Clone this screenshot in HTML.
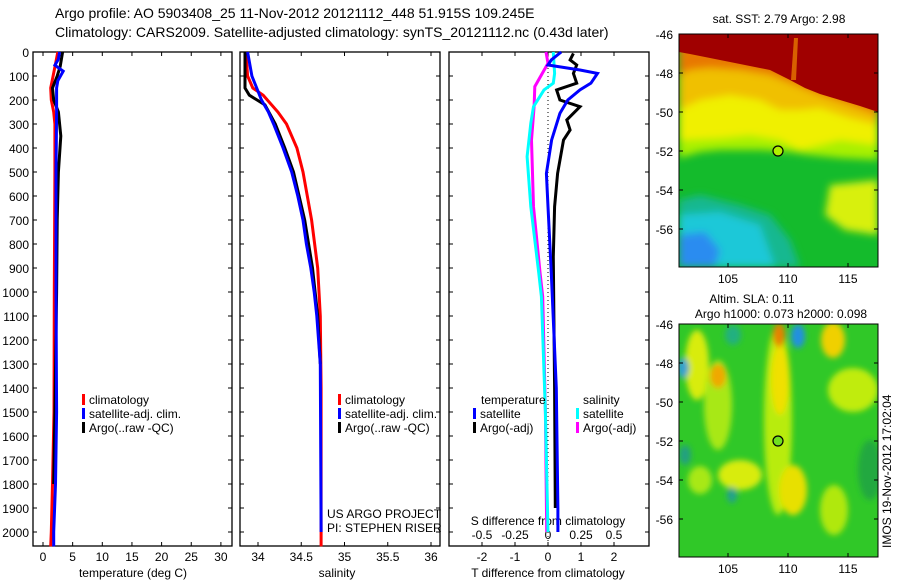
<!DOCTYPE html>
<html><head><meta charset="utf-8"><style>
html,body{margin:0;padding:0;background:#fff;}
svg{display:block;font-family:"Liberation Sans",sans-serif;}
text{fill:#000;}
</style></head><body>
<svg id="fig" width="900" height="580" viewBox="0 0 900 580" xmlns="http://www.w3.org/2000/svg">
<defs>
<filter id="bl" x="-20%" y="-20%" width="140%" height="140%"><feGaussianBlur stdDeviation="4"/></filter>
<filter id="bl2" x="-50%" y="-50%" width="200%" height="200%"><feGaussianBlur stdDeviation="3"/></filter>
<clipPath id="c1"><rect x="679" y="34" width="199" height="233"/></clipPath>
<clipPath id="c2"><rect x="679" y="324" width="199" height="233"/></clipPath>
</defs>
<text x="55" y="18" font-size="14">Argo profile: AO 5903408_25 11-Nov-2012 20121112_448 51.915S 109.245E</text>
<text x="55" y="37" font-size="14">Climatology: CARS2009. Satellite-adjusted climatology: synTS_20121112.nc (0.43d later)</text>

<!-- top map -->
<g clip-path="url(#c1)">
<rect x="679" y="34" width="199" height="233" fill="#14bb2c"/>
<g filter="url(#bl)">
<polygon points="679,200 700,195 740,205 770,215 790,240 800,267 679,267" fill="#18b890"/>
<polygon points="679,215 720,212 760,225 775,267 679,267" fill="#1ec8d8"/>
<polygon points="679,235 705,232 720,250 715,267 679,267" fill="#2a8cf0"/>
<polygon points="830,185 878,180 878,235 845,230 825,215" fill="#d8f010"/>
<polygon points="679,34 878,34 878,160 840,158 810,155 790,152 760,150 720,150 700,152 679,158" fill="#a8f000"/>
<polygon points="679,34 878,34 878,145 840,140 800,150 780,140 750,135 720,138 679,140" fill="#f0f000"/>
<polygon points="679,34 878,34 878,125 850,118 820,108 800,110 780,110 760,100 730,95 700,100 679,110" fill="#f0c000"/>
<polygon points="679,34 878,34 878,115 850,105 820,95 795,85 770,75 740,70 710,68 690,70 679,75" fill="#e87800"/>
</g>
<polygon points="679,34 878,34 878,112 860,106 840,100 820,94 805,88 790,80 770,70 740,64 710,58 690,54 679,52" fill="#a00000"/>
<polygon points="794,38 798,38 796,80 791,80" fill="#d86000"/>
<circle cx="778" cy="151" r="5" fill="#b0f000" stroke="#000" stroke-width="1.2"/>
</g>
<rect x="679" y="34" width="199" height="233" fill="none" stroke="#000"/>

<!-- bottom map -->
<g clip-path="url(#c2)">
<rect x="679" y="324" width="199" height="233" fill="#30c828"/>
<g filter="url(#bl2)">
<ellipse cx="778" cy="420" rx="14" ry="95" fill="#b8ec10"/>
<ellipse cx="780" cy="380" rx="9" ry="35" fill="#f0e000"/>
<ellipse cx="779" cy="335" rx="6" ry="12" fill="#e88000"/>
<ellipse cx="697" cy="365" rx="12" ry="35" fill="#d8ec10"/>
<ellipse cx="718" cy="405" rx="14" ry="45" fill="#a8e818"/>
<ellipse cx="718" cy="376" rx="8" ry="12" fill="#f0a800"/>
<ellipse cx="833" cy="340" rx="12" ry="18" fill="#f0d000"/>
<ellipse cx="853" cy="390" rx="25" ry="22" fill="#c0ec10"/>
<ellipse cx="740" cy="475" rx="22" ry="15" fill="#d8ec10"/>
<ellipse cx="793" cy="490" rx="14" ry="25" fill="#e8e000"/>
<ellipse cx="834" cy="510" rx="14" ry="25" fill="#b0e810"/>
<ellipse cx="700" cy="480" rx="12" ry="14" fill="#a8e818"/>
<ellipse cx="870" cy="470" rx="12" ry="30" fill="#20a840"/>
<ellipse cx="798" cy="336" rx="7" ry="12" fill="#2090e0"/>
<ellipse cx="683" cy="368" rx="6" ry="10" fill="#30a0d0"/>
<ellipse cx="733" cy="335" rx="8" ry="10" fill="#20b080"/>
<ellipse cx="732" cy="495" rx="5" ry="8" fill="#20a090"/>
<ellipse cx="685" cy="455" rx="6" ry="10" fill="#20a080"/>
</g>
<circle cx="778" cy="441" r="5" fill="#70e020" stroke="#000" stroke-width="1.2"/>
</g>
<rect x="679" y="324" width="199" height="233" fill="none" stroke="#000"/>

<text x="779" y="23" font-size="12" text-anchor="middle">sat. SST: 2.79 Argo: 2.98</text>
<text x="752" y="303" font-size="12" text-anchor="middle">Altim. SLA: 0.11</text>
<text x="781" y="318" font-size="12" text-anchor="middle">Argo h1000: 0.073 h2000: 0.098</text>
<text transform="translate(891,548) rotate(-90)" font-size="12">IMOS 19-Nov-2012 17:02:04</text>
<g id="axes"></g>
<g id="marks"></g>
</svg>
<script>
// ---- data ----
const depthTicks = [0,100,200,300,400,500,600,700,800,900,1000,1100,1200,1300,1400,1500,1600,1700,1800,1900,2000];
const tempTicks = [0,5,10,15,20,25,30];
const salTicks = [34,34.5,35,35.5,36];
const salTickLabels = ["34","34.5","35","35.5","36"];
const tdiffTicks = [-2,-1,0,1,2];
const sdiffTicks = [-0.5,-0.25,0,0.25,0.5];
const sdiffTickLabels = ["-0.5","-0.25","0","0.25","0.5"];

const tClimDepth = [0,50,100,150,200,250,300,500,1000,1500,1800,2000,2060];
const tClimVal   = [2.5,2.1,1.7,1.3,1.4,1.8,2.0,2.0,1.9,1.85,1.6,1.4,1.3];
const tSatDepth = [0,30,55,80,120,150,250,500,1000,1500,1800,2000,2060];
const tSatVal   = [2.8,2.6,2.0,3.4,2.5,2.3,2.3,2.2,2.2,2.3,2.1,1.8,1.8];
const tArgoDepth = [0,60,100,150,200,250,350,500,700,1000,1500,1800];
const tArgoVal   = [3.3,2.9,2.4,1.6,1.8,2.6,3.0,2.6,2.4,2.3,2.0,1.8];

const sClimDepth = [0,100,150,180,250,300,400,500,700,900,1100,1400,2060];
const sClimVal   = [33.86,33.88,33.94,34.06,34.23,34.33,34.45,34.52,34.62,34.69,34.72,34.73,34.73];
const sSatDepth = [0,100,200,250,300,400,500,600,700,800,900,1000,1100,1300,2000];
const sSatVal   = [33.88,33.93,34.04,34.12,34.18,34.29,34.39,34.46,34.52,34.56,34.61,34.65,34.68,34.72,34.73];
const sArgoDepth = [0,150,180,200,220,300,400,500,700,900,1100,1300];
const sArgoVal   = [33.85,33.85,33.9,33.99,34.08,34.2,34.31,34.41,34.54,34.63,34.69,34.72];

const dtSatDepth = [0,33,54,75,89,130,158,200,256,367,506,644,922,1400,1900,2000];
const dtSatVal   = [0.4,0.1,0.0,0.97,1.5,1.3,0.97,0.6,0.36,0.11,-0.05,0.0,0.1,0.25,0.3,0.3];
const dtArgoDepth = [6,33,54,89,130,158,200,228,283,325,367,506,644,853,1400,1900];
const dtArgoVal   = [0.77,0.67,0.87,0.77,0.87,0.26,0.36,0.97,0.57,0.67,0.47,0.29,0.2,0.16,0.2,0.22];
const dsSatDepth = [0,89,130,158,228,297,436,644,922,1019,1500,2000];
const dsSatVal   = [0.04,0.05,0.04,-0.03,-0.11,-0.13,-0.158,-0.13,-0.07,-0.05,-0.02,0.0];
const dsArgoDepth = [0,47,144,228,367,644,922,1019,1500,2000];
const dsArgoVal   = [-0.015,0.0,-0.1,-0.105,-0.125,-0.11,-0.06,-0.04,-0.02,-0.01];

const mapLonTicks = [105,110,115];
const mapLatTicks = [-46,-48,-50,-52,-54,-56];

// ---- scales ----
const Y0=52, PXM=0.24, YB=546;
const yD = d => Y0 + d*PXM;
const xT = v => 43 + v*5.93;
const xS = v => 258 + (v-34)*86.5;
const xDT = v => 548 + v*33;
const xDS = v => 548 + v*132;
const xLon = v => 728 + (v-105)*12;
const yLat1 = v => 34 + (-46 - v)*19.5;
const yLat2 = v => 324 + (-46 - v)*19.5;

const NS="http://www.w3.org/2000/svg";
const axes=document.getElementById('axes'), marks=document.getElementById('marks');
function mk(tag, attrs, parent){const e=document.createElementNS(NS,tag);for(const k in attrs)e.setAttribute(k,attrs[k]);parent.appendChild(e);return e;}
function txt(x,y,s,size,anchor,parent){const e=mk('text',{x:x,y:y,'font-size':size,'text-anchor':anchor},parent);e.textContent=s;return e;}

const panels=[{x0:33,x1:232,name:'temperature-panel'},{x0:240,x1:440,name:'salinity-panel'},{x0:449,x1:649,name:'difference-panel'}];
panels.forEach(p=>{
  const r=mk('rect',{x:p.x0,y:Y0,width:p.x1-p.x0,height:YB-Y0,fill:'none',stroke:'#000','stroke-width':1.3},axes);
  
  
  depthTicks.forEach(d=>{
    mk('line',{x1:p.x0,x2:p.x0+4,y1:yD(d),y2:yD(d),stroke:'#000'},axes);
    mk('line',{x1:p.x1,x2:p.x1-4,y1:yD(d),y2:yD(d),stroke:'#000'},axes);
  });
});
depthTicks.forEach(d=>{
  const t=txt(29,yD(d)+5,String(d),12,'end',axes);
  
  
});
function xticks(ticks,labels,fx,p,ylab){
  ticks.forEach((v,i)=>{
    const x=fx(v);
    mk('line',{x1:x,x2:x,y1:Y0,y2:Y0+4,stroke:'#000'},axes);
    mk('line',{x1:x,x2:x,y1:YB,y2:YB-4,stroke:'#000'},axes);
    const t=txt(x,ylab,labels[i],12,'middle',axes);
    
    
  });
}
xticks(tempTicks,tempTicks.map(String),xT,panels[0],561);
xticks(salTicks,salTickLabels,xS,panels[1],561);
xticks(tdiffTicks,tdiffTicks.map(String),xDT,panels[2],561);
sdiffTicks.forEach((v,i)=>{
  const t=txt(xDS(v),539,sdiffTickLabels[i],12,'middle',axes);
  
  
});
[[133,'temperature (deg C)','x-axis-title-temperature'],[337,'salinity','x-axis-title-salinity'],[548,'T difference from climatology','x-axis-title-tdiff']].forEach(a=>{
  const t=txt(a[0],577,a[1],12,'middle',axes);
  
  
});
{const t=txt(548,525,'S difference from climatology',12,'middle',axes);

}
{const l=mk('line',{x1:xDT(0),x2:xDT(0),y1:Y0,y2:YB,stroke:'#000','stroke-dasharray':'1,3'},axes);

}

mapLonTicks.forEach(v=>{
  [[34,267,283],[324,557,573]].forEach(m=>{
    mk('line',{x1:xLon(v),x2:xLon(v),y1:m[0],y2:m[0]+4,stroke:'#000'},axes);
    mk('line',{x1:xLon(v),x2:xLon(v),y1:m[1],y2:m[1]-4,stroke:'#000'},axes);
    const t=txt(xLon(v),m[2],String(v),12,'middle',axes);
    
    
  });
});
mapLatTicks.forEach(v=>{
  [yLat1(v),yLat2(v)].forEach(y=>{
    mk('line',{x1:679,x2:683,y1:y,y2:y,stroke:'#000'},axes);
    mk('line',{x1:878,x2:874,y1:y,y2:y,stroke:'#000'},axes);
    const t=txt(673,y+5,String(v),12,'end',axes);
    
    
  });
});

function series(depths,vals,fx,color,w,name){
  const pts=depths.map((d,i)=>fx(vals[i]).toFixed(1)+','+yD(d).toFixed(1)).join(' ');
  const l=mk('polyline',{points:pts,fill:'none',stroke:color,'stroke-width':w,'stroke-linejoin':'miter'},marks);
  
  
}
series(tClimDepth,tClimVal,xT,'#f00',3,'temp-climatology-line');
series(tArgoDepth,tArgoVal,xT,'#000',3,'temp-argo-line');
series(tSatDepth,tSatVal,xT,'#00f',3,'temp-satellite-line');
series(sClimDepth,sClimVal,xS,'#f00',3,'sal-climatology-line');
series(sArgoDepth,sArgoVal,xS,'#000',3,'sal-argo-line');
series(sSatDepth,sSatVal,xS,'#00f',3,'sal-satellite-line');
series(dsArgoDepth,dsArgoVal,xDS,'#f0f',3,'sdiff-argo-line');
series(dsSatDepth,dsSatVal,xDS,'#0ff',3,'sdiff-satellite-line');
series(dtArgoDepth,dtArgoVal,xDT,'#000',3,'tdiff-argo-line');
series(dtSatDepth,dtSatVal,xDT,'#00f',3,'tdiff-satellite-line');

function leg(x,y,color,label,name){
  const r=mk('rect',{x:x,y:y-10,width:3,height:11,fill:color},marks);
  
  
  const t=txt(x+7,y,label,12,'start',marks);
  
  
}
[[82,'temp'],[338,'sal']].forEach(a=>{
  leg(a[0],404,'#f00','climatology','legend-'+a[1]+'-climatology');
  leg(a[0],418,'#00f','satellite-adj. clim.','legend-'+a[1]+'-satellite');
  leg(a[0],432,'#000','Argo(..raw -QC)','legend-'+a[1]+'-argo');
});
{const t=txt(481,404,'temperature',12,'start',marks);}
{const t=txt(583,404,'salinity',12,'start',marks);}
leg(473,418,'#00f','satellite','legend-tdiff-satellite');
leg(473,432,'#000','Argo(-adj)','legend-tdiff-argo');
leg(576,418,'#0ff','satellite','legend-sdiff-satellite');
leg(576,432,'#f0f','Argo(-adj)','legend-sdiff-argo');
{const t=txt(327,518,'US ARGO PROJECT',12,'start',marks);}
{const t=txt(327,532,'PI: STEPHEN RISER',12,'start',marks);}
</script>
</body></html>
